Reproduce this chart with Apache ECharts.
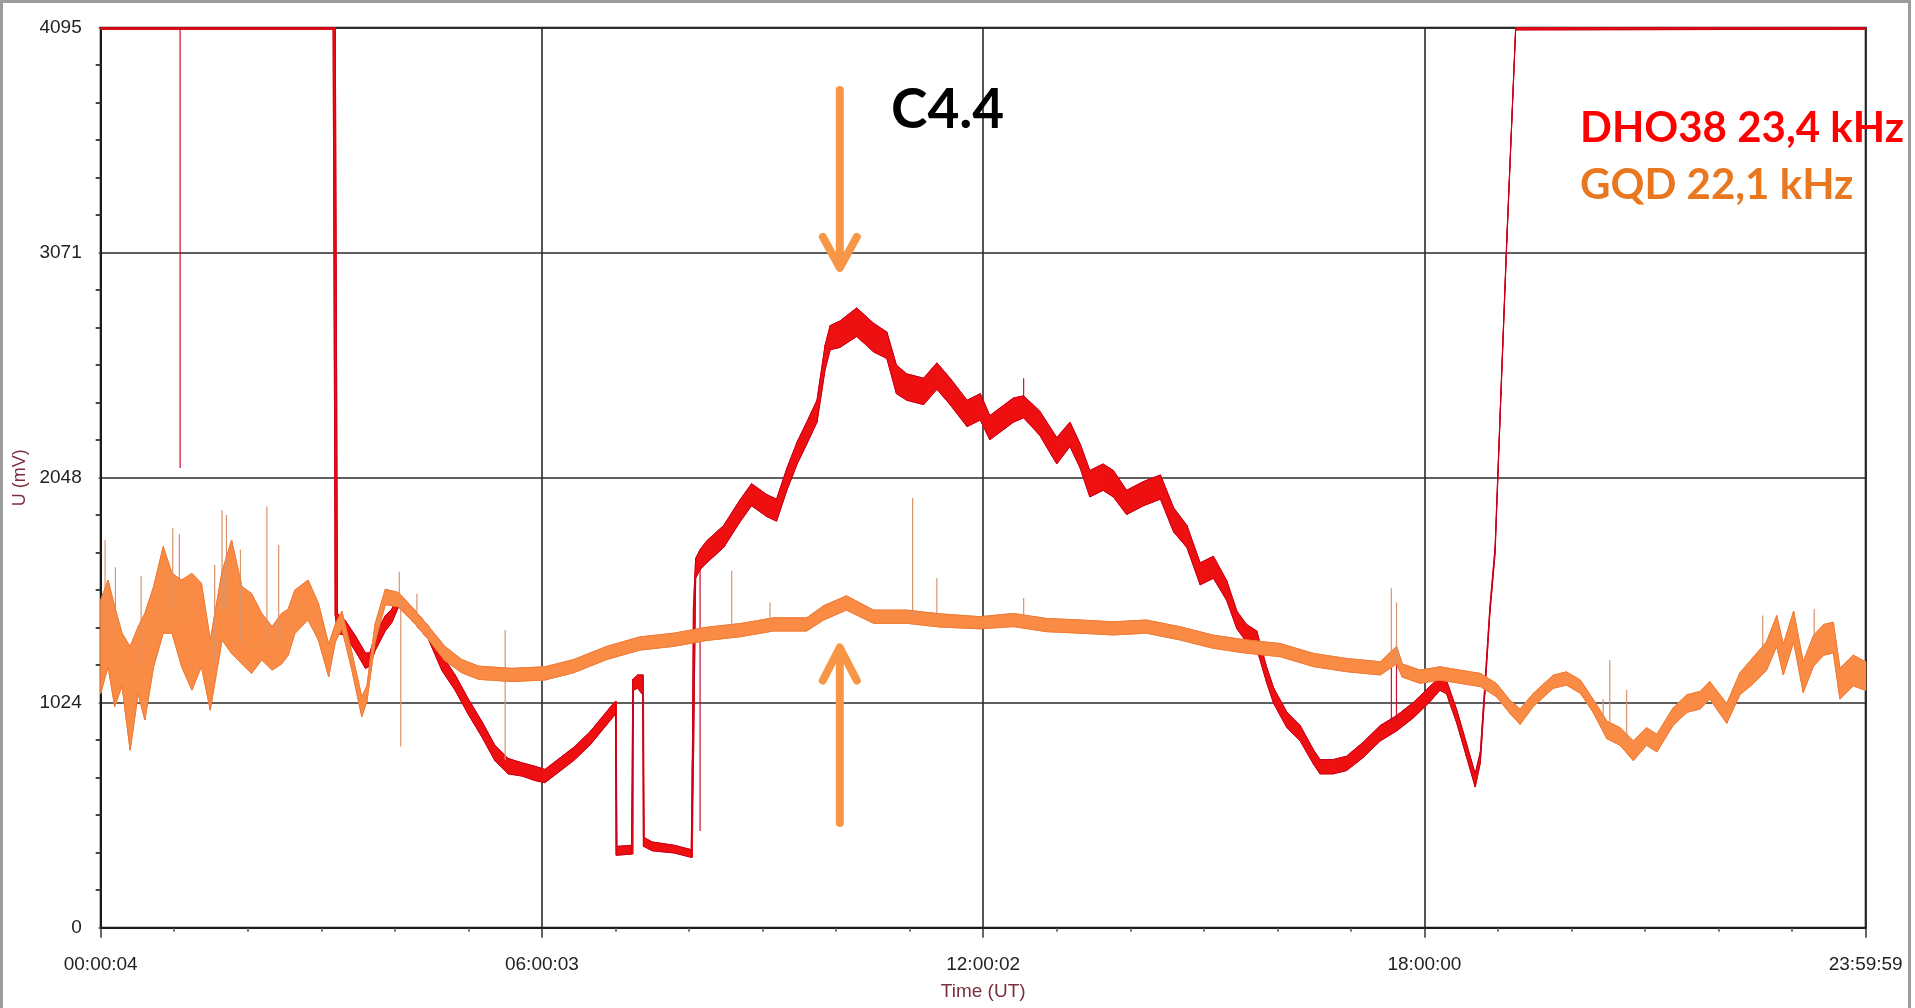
<!DOCTYPE html>
<html>
<head>
<meta charset="utf-8">
<script src="https://cdn.jsdelivr.net/npm/echarts@6/dist/echarts.min.js"></script>
<style>
  html, body { margin: 0; padding: 0; background: #fff; }
  #chart { width: 1915px; height: 1008px; }
</style>
</head>
<body>
<div id="chart"></div>
<script>
// ---- Tick labels -------------------------------------------------------
const timeTickLabels = ['00:00:04', '06:00:03', '12:00:02', '18:00:00', '23:59:59'];
const voltTickLabels = ['0', '1024', '2048', '3071', '4095'];

// ---- DHO38 23,4 kHz : hour of day, lower / upper edge of the noisy trace (mV)
const dhoHours = [0.00, 3.16, 3.19, 3.22, 3.32, 3.46, 3.60, 3.66, 3.73, 3.87, 3.96, 4.05, 4.23, 4.46, 4.64, 4.82, 5.00, 5.18, 5.36, 5.54, 5.73, 5.90, 6.04, 6.43, 6.65, 6.97, 7.00, 7.01, 7.02, 7.22, 7.235, 7.245, 7.30, 7.37, 7.38, 7.39, 7.50, 7.80, 8.03, 8.045, 8.06, 8.09, 8.15, 8.24, 8.47, 8.70, 8.85, 9.06, 9.19, 9.33, 9.47, 9.60, 9.74, 9.85, 9.92, 10.05, 10.28, 10.51, 10.69, 10.82, 10.96, 11.19, 11.37, 11.55, 11.78, 11.96, 12.09, 12.41, 12.55, 12.77, 13.00, 13.18, 13.32, 13.45, 13.63, 13.77, 13.95, 14.18, 14.41, 14.59, 14.77, 14.95, 15.13, 15.31, 15.45, 15.58, 15.72, 15.85, 15.95, 16.13, 16.31, 16.49, 16.58, 16.76, 16.94, 17.17, 17.40, 17.62, 17.85, 18.08, 18.21, 18.30, 18.44, 18.57, 18.69, 18.76, 18.82, 18.89, 18.96, 19.04, 19.12, 19.24, 24.00];
const dhoLow   = [4088, 4088, 1420, 1340, 1330, 1260, 1180, 1190, 1260, 1350, 1390, 1460, 1400, 1310, 1170, 1080, 970, 870, 760, 700, 690, 670, 660, 760, 830, 960, 970, 330, 330, 335, 335, 1080, 1090, 1060, 370, 370, 350, 340, 320, 320, 740, 1590, 1630, 1660, 1730, 1850, 1920, 1870, 1850, 1990, 2110, 2200, 2300, 2540, 2630, 2640, 2690, 2620, 2590, 2430, 2400, 2380, 2450, 2380, 2280, 2310, 2220, 2300, 2320, 2240, 2110, 2190, 2090, 1960, 1990, 1960, 1880, 1920, 1950, 1800, 1730, 1560, 1590, 1490, 1360, 1300, 1270, 1120, 1020, 910, 850, 745, 700, 700, 715, 775, 850, 895, 955, 1030, 1080, 1065, 930, 780, 640, 750, 1060, 1430, 1700, 2420, 3120, 4085, 4088];
const dhoHigh  = [4095, 4095, 4095, 1430, 1400, 1330, 1250, 1250, 1330, 1420, 1450, 1520, 1460, 1370, 1240, 1150, 1040, 940, 830, 770, 750, 735, 720, 820, 890, 1020, 1030, 1030, 370, 375, 1130, 1130, 1150, 1150, 1150, 410, 390, 375, 355, 760, 1460, 1680, 1720, 1760, 1830, 1950, 2020, 1970, 1950, 2090, 2210, 2300, 2400, 2650, 2740, 2760, 2820, 2750, 2710, 2560, 2520, 2500, 2570, 2500, 2400, 2430, 2330, 2410, 2420, 2350, 2230, 2300, 2200, 2080, 2110, 2080, 1990, 2030, 2060, 1910, 1830, 1660, 1690, 1580, 1440, 1380, 1350, 1190, 1090, 980, 920, 810, 765, 765, 780, 845, 920, 965, 1025, 1100, 1140, 1125, 990, 840, 700, 800, 1100, 1460, 1730, 2440, 3140, 4095, 4095];
// isolated glitches: hour, from, to (mV)
const dhoSpikes = [[1.08, 4095, 2092], [8.15, 1640, 440], [12.55, 2400, 2500], [17.55, 930, 1200], [17.62, 940, 1230]];

// ---- GQD 22,1 kHz : hour of day, lower / upper edge of the noisy trace (mV)
const gqdHours = [0.00, 0.10, 0.19, 0.29, 0.40, 0.51, 0.60, 0.72, 0.85, 0.97, 1.10, 1.24, 1.37, 1.49, 1.65, 1.78, 1.92, 2.05, 2.19, 2.33, 2.46, 2.55, 2.64, 2.82, 2.96, 3.10, 3.19, 3.28, 3.41, 3.55, 3.62, 3.73, 3.87, 4.05, 4.23, 4.46, 4.68, 4.91, 5.14, 5.59, 6.04, 6.43, 6.88, 7.33, 7.79, 8.24, 8.70, 9.15, 9.60, 9.83, 10.14, 10.51, 10.96, 11.41, 11.96, 12.41, 12.86, 13.32, 13.77, 14.22, 14.68, 15.13, 15.58, 16.04, 16.49, 16.94, 17.40, 17.62, 17.70, 17.94, 18.21, 18.48, 18.76, 18.98, 19.16, 19.30, 19.48, 19.75, 19.93, 20.12, 20.30, 20.48, 20.66, 20.84, 21.02, 21.16, 21.38, 21.57, 21.75, 21.88, 22.11, 22.29, 22.47, 22.65, 22.79, 22.88, 23.02, 23.15, 23.29, 23.43, 23.56, 23.65, 23.83, 24.00];
const gqdLow   = [1066, 1188, 1006, 1100, 808, 1066, 945, 1188, 1340, 1340, 1188, 1081, 1188, 990, 1309, 1248, 1200, 1157, 1218, 1172, 1200, 1240, 1339, 1400, 1309, 1142, 1300, 1360, 1180, 960, 1030, 1300, 1470, 1460, 1400, 1310, 1215, 1160, 1130, 1120, 1127, 1160, 1220, 1263, 1280, 1307, 1324, 1350, 1350, 1400, 1445, 1385, 1385, 1368, 1360, 1370, 1347, 1340, 1332, 1340, 1309, 1271, 1249, 1233, 1188, 1165, 1150, 1200, 1140, 1112, 1127, 1112, 1097, 1051, 976, 925, 1006, 1089, 1104, 1067, 976, 860, 830, 760, 830, 800, 920, 980, 995, 1040, 930, 1060, 1110, 1170, 1280, 1150, 1300, 1070, 1190, 1240, 1250, 1040, 1100, 1080];
const gqdHigh  = [1491, 1582, 1461, 1340, 1279, 1370, 1430, 1552, 1734, 1612, 1582, 1612, 1567, 1309, 1620, 1764, 1552, 1521, 1430, 1370, 1430, 1450, 1536, 1582, 1476, 1290, 1380, 1440, 1260, 1050, 1100, 1380, 1540, 1525, 1460, 1370, 1280, 1220, 1190, 1180, 1187, 1220, 1280, 1323, 1340, 1367, 1384, 1410, 1410, 1465, 1510, 1445, 1445, 1428, 1415, 1430, 1407, 1400, 1392, 1400, 1369, 1331, 1309, 1293, 1248, 1225, 1210, 1280, 1200, 1172, 1187, 1172, 1157, 1111, 1036, 995, 1066, 1149, 1164, 1127, 1036, 940, 910, 850, 910, 880, 1000, 1060, 1075, 1120, 1020, 1160, 1230, 1300, 1420, 1290, 1440, 1210, 1330, 1380, 1390, 1180, 1240, 1210];
const gqdSpikes = [[0.06, 1300, 1764], [0.20, 1300, 1640], [0.55, 1200, 1600], [0.98, 1450, 1817], [1.07, 1400, 1790], [1.55, 1200, 1650], [1.65, 1450, 1901], [1.71, 1450, 1878], [1.90, 1300, 1720], [2.26, 1300, 1916], [2.42, 1300, 1741], [4.06, 1500, 1620], [4.08, 1490, 824], [4.30, 1440, 1520], [5.50, 1150, 763], [5.50, 1170, 1355], [8.58, 1360, 1624], [9.10, 1390, 1480], [11.04, 1420, 1955], [11.37, 1410, 1590], [12.55, 1400, 1500], [17.55, 1200, 1544], [17.62, 1200, 1480], [20.43, 900, 1040], [20.52, 900, 1218], [20.75, 850, 1081], [22.60, 1250, 1420], [23.30, 1300, 1450]];

// ---- Annotation anchors (hour, mV) -----------------------------------
const flareHour = 10.05;
const flareArrowDown = [3812, 3002];   // shaft top, tip
const flareArrowUp = [476, 1275];      // shaft bottom, tip

// ---- Styling -----------------------------------------------------------
const AXIS_FONT = '"Liberation Sans", Arial, sans-serif';
const NOTE_FONT = 'Lato, "Open Sans", sans-serif';
const RED_FILL = '#ee1010', RED_EDGE = '#c8001c';
const ORANGE_FILL = '#f98b45', ORANGE_EDGE = '#ee7c38';
const ARROW = '#f79646';
const Y_MAX = 4095, Y_STEP = Y_MAX / 4;

// Noise envelope of a trace: one quad per pair of consecutive readings,
// plus thin edge lines along the lower and upper envelope.
function bandSeries(hours, low, high, fill, edge, z) {
  const rows = hours.map((h, i) => [h, low[i], high[i]]);
  return [
    {
      type: 'custom', silent: true, z: z,
      data: rows,
      encode: { x: 0, y: [1, 2] },
      renderItem: function (params, api) {
        const i = params.dataIndexInside;
        if (i === 0) return null;
        const h0 = api.value(0, i - 1), l0 = api.value(1, i - 1), u0 = api.value(2, i - 1);
        const h1 = api.value(0), l1 = api.value(1), u1 = api.value(2);
        return {
          type: 'polygon',
          shape: { points: [api.coord([h0, l0]), api.coord([h1, l1]), api.coord([h1, u1]), api.coord([h0, u0])] },
          style: { fill: fill, stroke: fill, lineWidth: 1 }
        };
      }
    },
    {
      type: 'line', symbol: 'none', silent: true, z: z,
      data: rows.map(r => [r[0], r[1]]),
      lineStyle: { color: edge, width: 1 }
    },
    {
      type: 'line', symbol: 'none', silent: true, z: z,
      data: rows.map(r => [r[0], r[2]]),
      lineStyle: { color: edge, width: 1 }
    }
  ];
}

function spikeSeries(spikes, color, z) {
  return {
    type: 'custom', silent: true, z: z,
    data: spikes,
    encode: { x: 0, y: [1, 2] },
    renderItem: function (params, api) {
      const a = api.coord([api.value(0), api.value(1)]);
      const b = api.coord([api.value(0), api.value(2)]);
      return {
        type: 'line',
        shape: { x1: a[0], y1: a[1], x2: b[0], y2: b[1] },
        style: { stroke: color, lineWidth: 1.2 }
      };
    }
  };
}

const chart = echarts.init(document.getElementById('chart'), null, { renderer: 'canvas' });

const option = {
  animation: false,
  backgroundColor: '#ffffff',
  grid: {
    left: 100.7, right: 49.3, top: 27.7, bottom: 80.3,
    show: true, borderColor: '#1a1a1a', borderWidth: 2, backgroundColor: 'transparent'
  },
  xAxis: [
    {
      type: 'value', min: 0, max: 24, interval: 6,
      axisLine: { show: true, lineStyle: { color: '#1a1a1a', width: 2 } },
      axisTick: { show: false },
      axisLabel: {
        margin: 28, color: '#222', fontSize: 19, fontFamily: AXIS_FONT,
        formatter: v => timeTickLabels[Math.round(v / 6)]
      },
      splitLine: { show: true, lineStyle: { color: '#2a2a2a', width: 1.6 } },
      name: 'Time (UT)', nameLocation: 'middle', nameGap: 55,
      nameTextStyle: { color: '#7b3040', fontSize: 19, fontFamily: AXIS_FONT }
    },
    {
      type: 'value', min: 0, max: 24, interval: 6, position: 'bottom', offset: 9,
      axisLine: { show: false },
      axisTick: { show: true, length: 10, lineStyle: { color: '#333', width: 1.5 } },
      minorTick: { show: true, splitNumber: 6, length: 4, lineStyle: { color: '#555', width: 1.5 } },
      axisLabel: { show: false },
      splitLine: { show: false }
    }
  ],
  yAxis: [
    {
      type: 'value', min: 0, max: Y_MAX, interval: Y_STEP,
      axisLine: { show: true, lineStyle: { color: '#1a1a1a', width: 2 } },
      axisTick: { show: false },
      axisLabel: {
        margin: 19, color: '#222', fontSize: 19, fontFamily: AXIS_FONT,
        formatter: v => voltTickLabels[Math.round(v / Y_STEP)]
      },
      splitLine: { show: true, lineStyle: { color: '#2a2a2a', width: 1.6 } },
      name: 'U (mV)', nameLocation: 'middle', nameGap: 64,
      nameTextStyle: { color: '#7b3040', fontSize: 18, fontFamily: AXIS_FONT }
    },
    {
      type: 'value', min: 0, max: Y_MAX, interval: Y_STEP, position: 'left', offset: 8,
      axisLine: { show: false },
      axisTick: { show: true, length: 2, lineStyle: { color: '#444', width: 1.5 } },
      minorTick: { show: true, splitNumber: 6, length: 5, lineStyle: { color: '#333', width: 1.8 } },
      axisLabel: { show: false },
      splitLine: { show: false }
    }
  ],
  series: [
    ...bandSeries(dhoHours, dhoLow, dhoHigh, RED_FILL, RED_EDGE, 3),
    spikeSeries(dhoSpikes, '#c8102e', 3),
    ...bandSeries(gqdHours, gqdLow, gqdHigh, ORANGE_FILL, ORANGE_EDGE, 4),
    spikeSeries(gqdSpikes, '#d8946a', 4)
  ]
};

chart.setOption(option);

// Arrows marking the flare, anchored to the data scale
const px = (h, v) => chart.convertToPixel({ xAxisIndex: 0, yAxisIndex: 0 }, [h, v]);
const dTop = px(flareHour, flareArrowDown[0]);
const dTip = px(flareHour, flareArrowDown[1]);
const uBot = px(flareHour, flareArrowUp[0]);
const uTip = px(flareHour, flareArrowUp[1]);
const arrowStyle = { stroke: ARROW, lineWidth: 8, lineCap: 'round', lineJoin: 'round', fill: null };

chart.setOption({
  graphic: [
    { type: 'rect', silent: true, z: 100,
      shape: { x: 1.5, y: 1.5, width: 1908, height: 1020 },
      style: { fill: null, stroke: '#9c9c9c', lineWidth: 3 } },
    { type: 'polyline', silent: true, z: 50, shape: { points: [dTop, [dTip[0], dTip[1] - 4]] }, style: arrowStyle },
    { type: 'polyline', silent: true, z: 50,
      shape: { points: [[dTip[0] - 17, dTip[1] - 31], dTip, [dTip[0] + 17, dTip[1] - 31]] }, style: arrowStyle },
    { type: 'polyline', silent: true, z: 50, shape: { points: [uBot, [uTip[0], uTip[1] + 4]] }, style: arrowStyle },
    { type: 'polyline', silent: true, z: 50,
      shape: { points: [[uTip[0] - 17, uTip[1] + 33], uTip, [uTip[0] + 17, uTip[1] + 33]] }, style: arrowStyle },
    { type: 'text', silent: true, z: 50, x: 891, y: 110,
      style: { text: 'C4.4', fill: '#000', font: 'bold 55px ' + NOTE_FONT, textAlign: 'left', textVerticalAlign: 'middle' } },
    { type: 'text', silent: true, z: 50, x: 1580, y: 128,
      style: { text: 'DHO38 23,4 kHz', fill: '#ff0000', font: 'bold 42px ' + NOTE_FONT, textAlign: 'left', textVerticalAlign: 'middle' } },
    { type: 'text', silent: true, z: 50, x: 1580, y: 185,
      style: { text: 'GQD 22,1 kHz', fill: '#e8771f', font: 'bold 42px ' + NOTE_FONT, textAlign: 'left', textVerticalAlign: 'middle' } }
  ]
});
</script>
</body>
</html>
